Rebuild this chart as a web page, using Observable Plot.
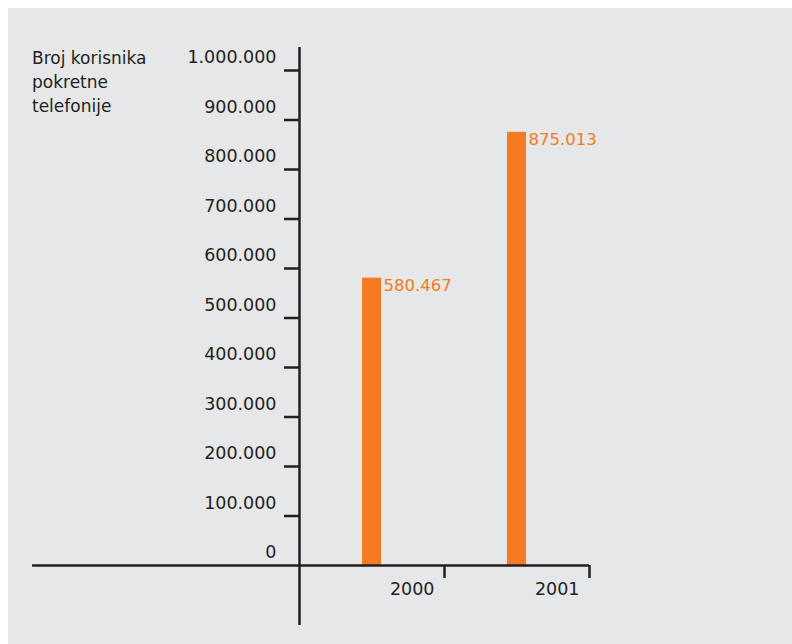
<!DOCTYPE html>
<html>
<head>
<meta charset="utf-8">
<script src="https://cdn.jsdelivr.net/npm/d3@7"></script>
<script src="https://cdn.jsdelivr.net/npm/@observablehq/plot@0.6"></script>
<style>
  html, body { margin: 0; padding: 0; background: #ffffff; }
  #wrap { position: relative; width: 792px; height: 644px; overflow: hidden; }
  #bg { position: absolute; left: 8px; top: 8px; width: 784px; height: 636px; background: #e6e7e8; }
  #title { position: absolute; left: 32px; top: 46px; font-family: "DejaVu Sans", sans-serif; font-size: 17px; line-height: 24px; color: #231f20; }
  #chart { position: absolute; left: 0; top: 0; }
</style>
</head>
<body>
<div id="wrap">
  <div id="bg"></div>
  <div id="title"></div>
  <div id="chart"></div>
</div>
<script>
// ---- data ----
const titleLines = ["Broj korisnika", "pokretne", "telefonije"];
const years = ["2000", "2001"];
const users = [580467, 875013];
const yTicks = [0, 100000, 200000, 300000, 400000, 500000, 600000, 700000, 800000, 900000, 1000000];
const yDomain = [-121212, 1046465];
const xDomain = [0, 2];
const xAxisStart = -1.841;

// ---- build ----
document.getElementById("title").innerHTML = titleLines.join("<br>");

const fmt = d3.formatLocale({decimal: ",", thousands: ".", grouping: [3], currency: ["", ""]}).format(",d");
const rows = years.map((year, i) => ({year, users: users[i], start: i, end: i + 1}));
const ink = "#231f20";
const orange = "#f47b20";

const chart = Plot.plot({
  width: 792,
  height: 644,
  marginLeft: 299,
  marginRight: 203,
  marginTop: 47,
  marginBottom: 19,
  style: {background: "transparent", color: ink, fontFamily: "DejaVu Sans, sans-serif", fontSize: "17px", overflow: "visible"},
  x: {domain: xDomain, axis: null},
  y: {domain: yDomain, axis: null},
  marks: [
    Plot.rectY(rows, {x1: "start", x2: "end", y: "users", fill: orange, insetLeft: 63, insetRight: 63}),
    // y axis line
    Plot.ruleX([0], {stroke: ink, strokeWidth: 2.5}),
    // x axis line
    Plot.ruleY([0], {x1: xAxisStart, x2: xDomain[1], stroke: ink, strokeWidth: 2.5}),
    // y ticks
    Plot.ruleY(yTicks.slice(1), {y: d => d, x1: 0, x2: 0, insetLeft: -15, stroke: ink, strokeWidth: 2.5}),
    // y tick labels
    Plot.text(yTicks, {y: d => d, x: 0, text: d => fmt(d), textAnchor: "end", dx: -23, dy: -13, fill: ink, fontSize: 17.5}),
    // x ticks
    Plot.ruleX(rows, {x: "end", y1: 0, y2: 0, insetBottom: -13, stroke: ink, strokeWidth: 2.5}),
    // x tick labels
    Plot.text(rows, {x: "end", y: 0, text: "year", textAnchor: "end", dx: -10, dy: 24, fill: ink, fontSize: 17.5}),
    // value labels
    Plot.text(rows, {x: "start", y: "users", text: d => fmt(d.users), textAnchor: "start", lineAnchor: "top", dx: 84, dy: 1, fill: orange, fontSize: 16.5})
  ]
});
document.getElementById("chart").appendChild(chart);
</script>
</body>
</html>
